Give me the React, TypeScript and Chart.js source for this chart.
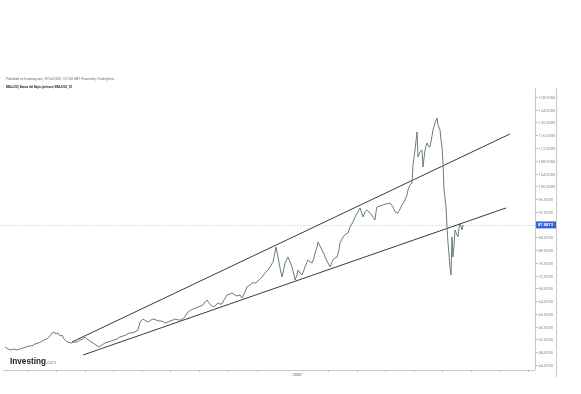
import { useEffect, useRef } from "react";
import { Chart, registerables } from "chart.js";

Chart.register(...registerables);

// bar index (time)
const barIndex = [
  5, 8, 11, 14, 17, 20, 23, 26, 29, 32, 35, 38, 41, 44, 47, 50, 52, 54, 56, 58,
  60, 62, 64, 66, 68, 71, 74, 77, 80, 83, 85, 87, 90, 93, 96, 99, 102, 105, 108, 111,
  114, 117, 120, 123, 126, 129, 132, 135, 138, 140, 143, 146, 148, 151, 153, 156, 159, 162, 165, 168,
  170, 173, 175, 178, 181, 184, 186, 188, 191, 193, 196, 198, 201, 203, 205, 207, 209, 211, 213, 216,
  218, 220, 222, 224, 227, 230, 232, 235, 237, 240, 242, 245, 247, 250, 252, 255, 257, 260, 262, 265,
  268, 270, 273, 275, 276, 278, 280, 282, 284, 285, 288, 290, 292, 294, 295, 297, 298, 300, 302, 304,
  305, 308, 310, 312, 314, 315, 317, 318, 320, 322, 324, 325, 328, 330, 332, 333, 335, 337, 339, 340,
  342, 343, 346, 348, 350, 353, 355, 358, 360, 362, 363, 365, 367, 369, 370, 373, 375, 376, 377, 380,
  383, 386, 390, 393, 395, 397, 398, 400, 402, 404, 405, 407, 408, 410, 412, 413, 415, 417, 418, 420,
  422, 423, 425, 427, 429, 430, 432, 433, 435, 437, 438, 440, 441, 442, 443, 444, 445, 446, 447, 448,
  449, 450, 451, 452, 453, 454, 455, 457, 458, 459, 460, 462, 463,
];

const closePrices = [
  49.63, 49.0, 48.69, 49.0, 48.69, 49.0, 49.32, 49.63, 49.95, 49.95, 50.57, 50.89, 51.2, 51.83, 52.14, 53.08, 54.02, 54.33, 53.71, 54.02,
  53.08, 53.39, 52.14, 51.51, 51.2, 50.89, 51.2, 51.2, 51.83, 52.14, 52.77, 52.14, 51.51, 50.89, 50.26, 49.63, 50.26, 50.89, 51.2, 51.51,
  51.83, 52.14, 52.77, 53.08, 53.39, 54.02, 54.02, 54.33, 54.96, 57.47, 58.41, 57.78, 57.47, 58.1, 58.41, 58.1, 57.78, 57.78, 57.16, 57.47,
  57.78, 58.1, 58.41, 58.1, 58.1, 58.72, 59.66, 60.6, 61.23, 61.54, 61.86, 62.17, 62.49, 62.8, 63.74, 64.37, 63.43, 62.8, 62.17, 62.8,
  63.43, 63.11, 63.11, 64.37, 65.93, 66.25, 66.56, 65.93, 65.62, 65.93, 64.99, 66.87, 68.44, 69.07, 69.7, 69.7, 70.01, 70.95, 71.58, 72.83,
  73.77, 74.71, 76.28, 79.41, 80.98, 77.85, 74.4, 71.58, 74.4, 75.96, 77.85, 76.28, 74.71, 72.2, 70.64, 72.2, 73.77, 72.83, 72.2, 73.77,
  74.71, 76.91, 76.28, 75.96, 77.53, 79.1, 80.98, 82.55, 81.29, 80.04, 78.79, 77.85, 75.96, 74.71, 76.28, 76.91, 77.53, 77.85, 80.04, 82.23,
  83.49, 84.12, 85.06, 85.37, 87.25, 88.82, 90.39, 91.95, 93.21, 91.33, 90.39, 91.95, 92.58, 91.95, 91.64, 90.39, 89.44, 91.95, 93.52, 93.83,
  94.15, 94.46, 94.77, 93.52, 91.95, 91.64, 91.64, 92.89, 94.15, 95.09, 95.71, 97.28, 98.85, 100.42, 101.04, 106.69, 111.39, 117.03, 109.19, 110.76,
  111.39, 106.06, 111.39, 113.58, 112.33, 112.33, 115.78, 117.66, 119.85, 121.42, 119.22, 117.66, 114.52, 112.33, 107.31, 98.85, 96.34, 93.52, 87.25, 82.23,
  78.47, 74.71, 72.2, 84.12, 77.85, 81.61, 86.31, 84.74, 84.12, 86.94, 88.5, 86.31, 87.89,
];

// trend lines (start / end)
const upperTrendX = [72, 510];
const upperTrendY = [51.2, 116.4];
const lowerTrendX = [83, 506];
const lowerTrendY = [47.12, 93.21];

const lastPrice = 87.8873;
const lastPriceLabel = "87.8873";

const priceTicks = [44, 48, 52, 56, 60, 64, 68, 72, 76, 80, 84, 88, 92, 96, 100, 104, 108, 112, 116, 120, 124, 128];
const timeTicks = [27, 56, 85, 113, 142, 170, 199, 228, 257, 328, 357, 385, 414, 442, 471, 500, 528];
const yearLabelAt = 297;
const yearLabel = "2020";

const headerLine1 = "Published on Investing.com, 29/Jul/2020 - 3:21:08 GMT, Powered by TradingView.";
const headerLine2 = "BBAJIOO, Banco del Bajio (primera) BBAJIOO, 1D";

const X_MIN = 0;
const X_MAX = 535;
const Y_MIN = 42.42;
const Y_MAX = 130.8;

const decorPlugin = {
  id: "decor",
  beforeDatasetsDraw(chart: any) {
    const { ctx, chartArea, scales } = chart;
    const yp = scales.y.getPixelForValue(lastPrice);
    ctx.save();
    ctx.strokeStyle = "#c4c4c4";
    ctx.lineWidth = 0.7;
    ctx.setLineDash([1.5, 1.5]);
    ctx.beginPath();
    ctx.moveTo(chartArea.left, Math.round(yp) + 0.5);
    ctx.lineTo(chartArea.right, Math.round(yp) + 0.5);
    ctx.stroke();
    ctx.restore();
  },
  afterDraw(chart: any) {
    const { ctx, chartArea, scales } = chart;
    const xs = scales.x;
    const ys = scales.y;
    const right = chartArea.right;
    const bottom = chartArea.bottom;
    ctx.save();
    ctx.setLineDash([]);
    // axis lines
    ctx.strokeStyle = "#c8c8c8";
    ctx.lineWidth = 1;
    ctx.beginPath();
    ctx.moveTo(right + 0.5, chartArea.top);
    ctx.lineTo(right + 0.5, bottom);
    ctx.moveTo(right + 21.5, chartArea.top);
    ctx.lineTo(right + 21.5, bottom + 7);
    ctx.moveTo(chartArea.left + 3, bottom + 0.5);
    ctx.lineTo(right, bottom + 0.5);
    ctx.stroke();

    // price ticks
    ctx.font = "4px Roboto, sans-serif";
    ctx.textBaseline = "middle";
    ctx.textAlign = "left";
    priceTicks.forEach((v) => {
      const y = Math.round(ys.getPixelForValue(v)) + 0.5;
      ctx.strokeStyle = "#b0b0b0";
      ctx.beginPath();
      ctx.moveTo(right, y);
      ctx.lineTo(right + 2.5, y);
      ctx.stroke();
      ctx.fillStyle = "#8a8a8a";
      ctx.fillText(v.toFixed(4), right + 3.5, y, 17);
    });

    // last price box
    const yp = ys.getPixelForValue(lastPrice);
    ctx.fillStyle = "#3d62d6";
    ctx.fillRect(right + 1, yp - 3.5, 20, 7);
    ctx.fillStyle = "#ffffff";
    ctx.font = "bold 4px Roboto, sans-serif";
    ctx.fillText(lastPriceLabel, right + 3, yp, 16);

    // time ticks
    ctx.strokeStyle = "#c0c0c0";
    timeTicks.forEach((t) => {
      const x = Math.round(xs.getPixelForValue(t)) + 0.5;
      ctx.beginPath();
      ctx.moveTo(x, bottom);
      ctx.lineTo(x, bottom + 2);
      ctx.stroke();
    });
    ctx.fillStyle = "#555";
    ctx.font = "4px Roboto, sans-serif";
    ctx.textAlign = "center";
    ctx.textBaseline = "top";
    ctx.fillText(yearLabel, xs.getPixelForValue(yearLabelAt), bottom + 2.5);

    // header
    ctx.textAlign = "left";
    ctx.textBaseline = "alphabetic";
    ctx.fillStyle = "#6a6a6a";
    ctx.font = "3px Roboto, sans-serif";
    ctx.fillText(headerLine1, 6, 80, 110);
    ctx.fillStyle = "#333";
    ctx.font = "bold 3px Roboto, sans-serif";
    ctx.fillText(headerLine2, 6, 88, 69);

    // logo
    ctx.fillStyle = "#222";
    ctx.font = "bold 8.5px 'Liberation Sans', Arial, sans-serif";
    ctx.fillText("Investing", 10, 364, 36);
    ctx.fillStyle = "#8a8a8a";
    ctx.font = "5.5px 'Liberation Sans', Arial, sans-serif";
    ctx.fillText(".com", 46, 364, 10);
    ctx.restore();
  },
};

export default function App() {
  const canvasRef = useRef<HTMLCanvasElement | null>(null);

  useEffect(() => {
    document.body.style.margin = "0";
    const canvas = canvasRef.current;
    if (!canvas) return;
    const chart = new Chart(canvas, {
      type: "line",
      data: {
        datasets: [
          {
            label: "BBAJIOO",
            data: barIndex.map((x, i) => ({ x, y: closePrices[i] })),
            borderColor: "#687f70",
            borderWidth: 1,
            pointRadius: 0,
            tension: 0,
          },
          {
            label: "Upper trend",
            data: upperTrendX.map((x, i) => ({ x, y: upperTrendY[i] })),
            borderColor: "#3a3a3a",
            borderWidth: 1,
            pointRadius: 0,
          },
          {
            label: "Lower trend",
            data: lowerTrendX.map((x, i) => ({ x, y: lowerTrendY[i] })),
            borderColor: "#3a3a3a",
            borderWidth: 1,
            pointRadius: 0,
          },
        ],
      },
      options: {
        animation: false,
        responsive: true,
        maintainAspectRatio: false,
        layout: { padding: { left: 0, right: 46, top: 88, bottom: 24 } },
        plugins: { legend: { display: false }, tooltip: { enabled: false } },
        scales: {
          x: { type: "linear", min: X_MIN, max: X_MAX, display: false },
          y: { type: "linear", min: Y_MIN, max: Y_MAX, display: false },
        },
      },
      plugins: [decorPlugin],
    });
    return () => chart.destroy();
  }, []);

  return (
    <div style={{ position: "fixed", left: 0, top: 0, width: 581, height: 394, background: "#fff" }}>
      <canvas ref={canvasRef} />
    </div>
  );
}
